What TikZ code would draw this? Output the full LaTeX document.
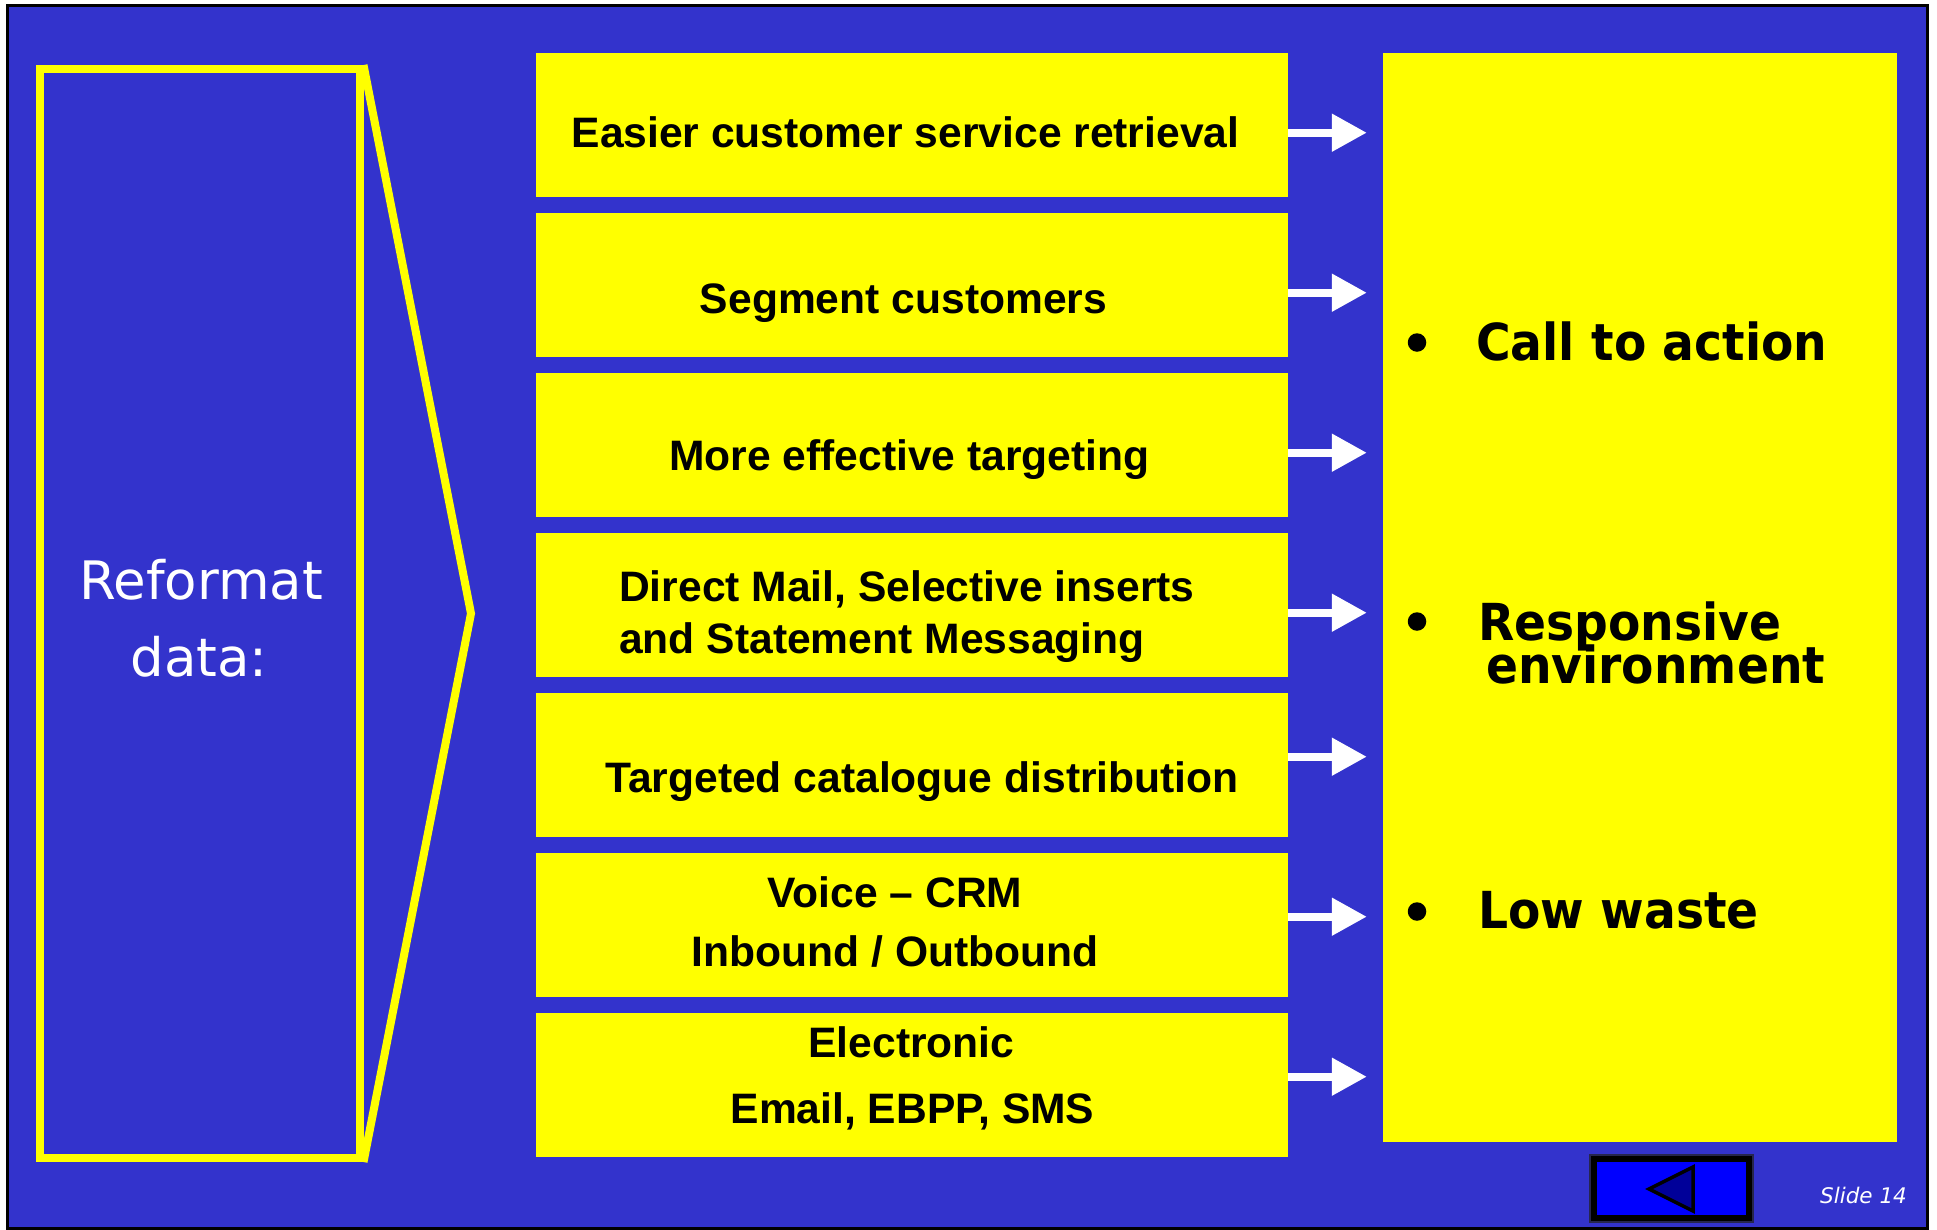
\documentclass[tikz,border=0pt]{standalone}
\usepackage{fontspec}
\newfontfamily\lsans{Liberation Sans}
\newfontfamily\dvs{DejaVu Sans}
\newfontfamily\dvsn{DejaVu Sans}[FakeStretch=0.925]
\usetikzlibrary{arrows.meta}
\definecolor{bg}{HTML}{3333CC}
\definecolor{yel}{HTML}{FFFF00}
\definecolor{btnblue}{HTML}{0000FF}
\definecolor{tri}{HTML}{000099}
\definecolor{btnline}{HTML}{26264D}
\begin{document}
\begin{tikzpicture}[x=1pt,y=-1pt,
  mbox/.style={fill=yel, draw=none, minimum width=752pt, minimum height=144pt, inner sep=0pt},
  mtext/.style={font=\lsans\bfseries\fontsize{42.6}{52}\selectfont, text=black, anchor=base, inner sep=0pt},
  rtext/.style={font=\dvsn\bfseries\fontsize{51}{51}\selectfont, text=black, anchor=base west, inner sep=0pt},
  ltext/.style={font=\dvs\fontsize{53}{77}\selectfont, text=white, anchor=base, inner sep=0pt},
  bul/.style={circle, fill=black, minimum size=18.5pt, inner sep=0pt},
  arr/.style={white, line width=8pt, -{Triangle[length=35pt,width=36pt]}, shorten >=16pt},
]
\useasboundingbox (0,0) rectangle (1937,1229);
\fill[white] (0,0) rectangle (1937,1229);
\filldraw[fill=bg, draw=black, line width=3pt] (7.5,5.5) rectangle (1927,1228);

% left box
\node[draw=yel, line width=8pt, minimum width=319.5pt, minimum height=1089pt, inner sep=0pt] (lbox) at (199.75,613.5) {};
\coordinate (tip) at (471,613.5);
\draw[yel, line width=8pt, miter limit=20] (lbox.north east) -- (tip) -- (lbox.south east);
\node[ltext] (ref1) at (201,599) {Reformat};
\node[ltext] (ref2) at (199,676) {data:};

% middle boxes
\foreach \i in {1,...,7} \node[mbox] (mb\i) at (912, {124.7+160*(\i-1)}) {};

\node[mtext] (t1) at (905.5,147) {Easier customer service retrieval};
\node[mtext] (t2) at (903.5,313) {Segment customers};
\node[mtext] (t3) at (909.5,470) {More effective targeting};
\node[mtext, anchor=base west] (t4a) at (619,601) {Direct Mail, Selective inserts};
\node[mtext, anchor=base west] (t4b) at (619,653) {and Statement Messaging};
\node[mtext] (t5) at (922,792.5) {Targeted catalogue distribution};
\node[mtext] (t6a) at (895,907.7) {Voice – CRM};
\node[mtext] (t6b) at (895,966.7) {Inbound / Outbound};
\node[mtext] (t7a) at (911.5,1057) {Electronic};
\node[mtext] (t7b) at (912.5,1123.6) {Email, EBPP, SMS};

% right box
\node[fill=yel, minimum width=514pt, minimum height=1089pt, inner sep=0pt] (rbox) at (1640,597.2) {};
\node[bul] (b1) at (1417,342.5) {};
\node[bul] (b2) at (1417,621.5) {};
\node[bul] (b3) at (1417,911.5) {};
\node[rtext] (r1) at (1476,360.7) {Call to action};
\node[rtext] (r2a) at (1478,640) {Responsive};
\node[rtext] (r2b) at (1486,683) {environment};
\node[rtext] (r3) at (1478,928.5) {Low waste};

% arrows
\foreach \i/\d in {1/-8,2/-8,3/-8,4/-8,5/8,6/8,7/8}
  \draw[arr] ([yshift=\d pt]mb\i.east) -- ([yshift=\d pt]mb\i.east -| rbox.west);

% back button
\node[fill=btnblue, draw=black, line width=7pt, minimum width=156pt, minimum height=60pt, inner sep=0pt] (btn) at (1671.5,1188.5) {};
\draw[btnline, line width=1.2pt] (btn.north west) rectangle (btn.south east);
\filldraw[fill=tri, draw=black, line width=3.5pt, line join=miter] (1649,1189) -- (1693,1167) -- (1693,1211) -- cycle;
\node[font=\dvs\itshape\fontsize{21.5}{26}\selectfont, text=white, anchor=base west, inner sep=0pt] (slide) at (1820,1203) {Slide 14};
\end{tikzpicture}
\end{document}
